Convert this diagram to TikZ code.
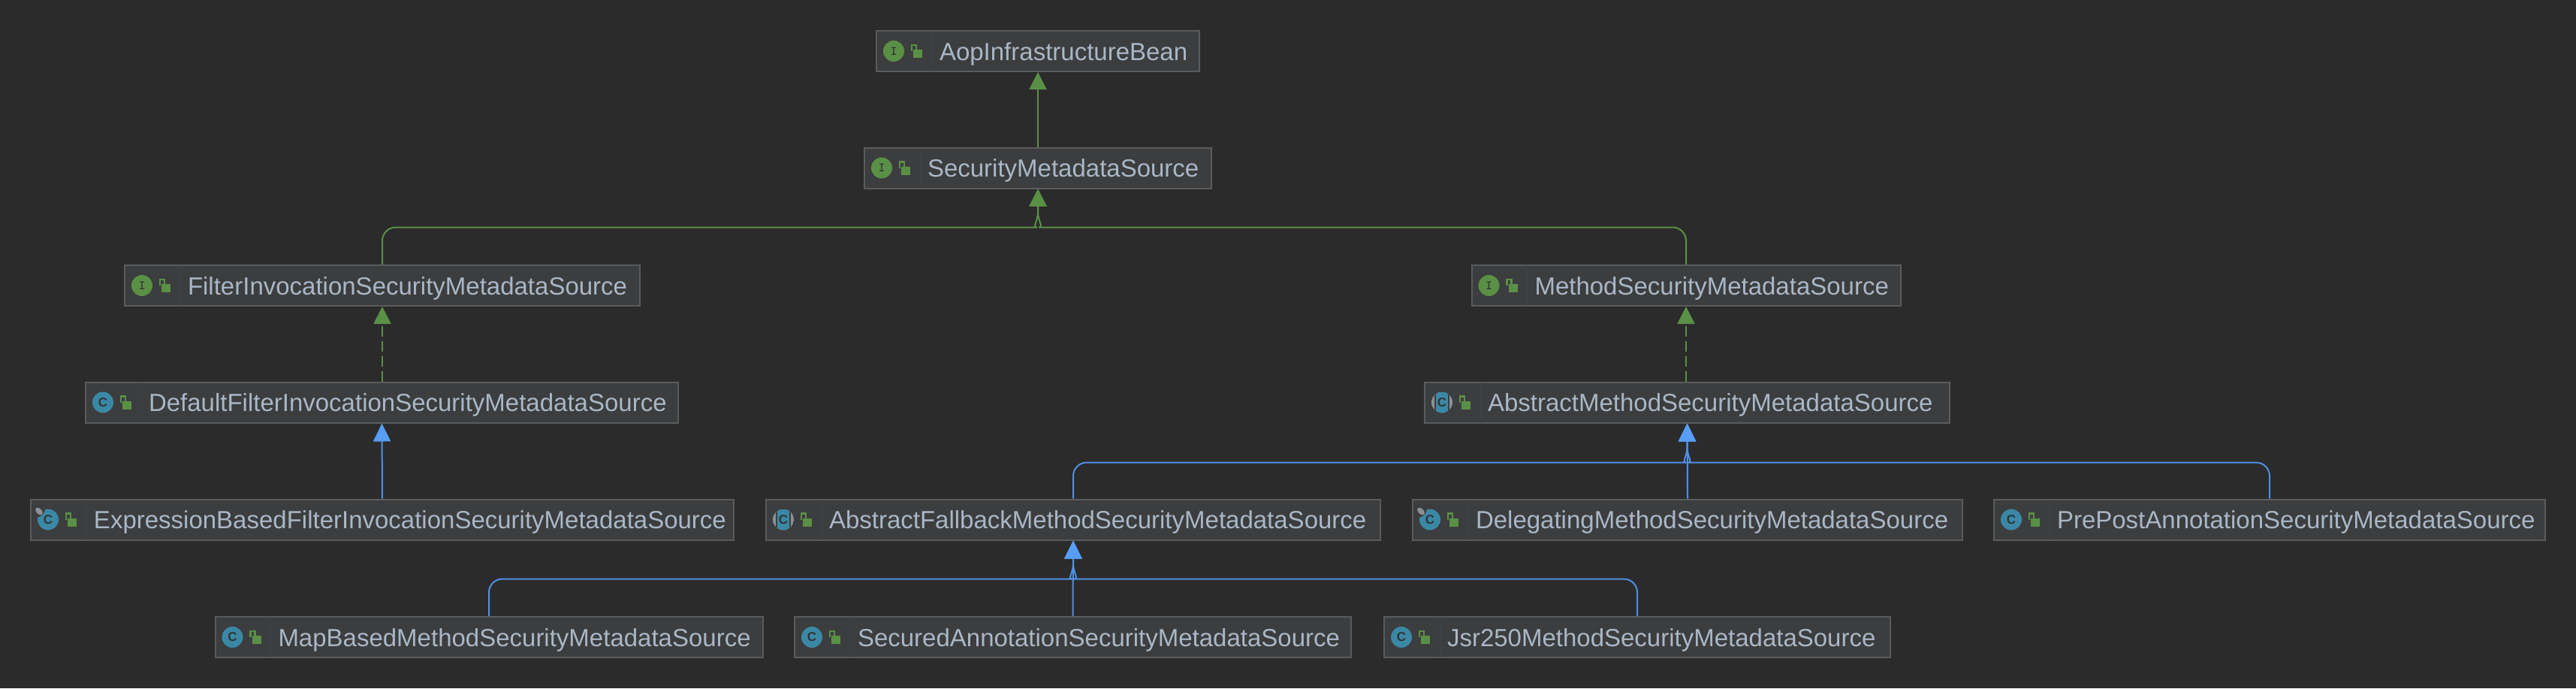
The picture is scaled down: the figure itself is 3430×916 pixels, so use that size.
\documentclass[tikz,border=0pt]{standalone}
\usepackage{fontspec}
\setmainfont{Liberation Sans}
\usetikzlibrary{calc,arrows.meta}
\definecolor{pagebg}{HTML}{2B2B2B}
\definecolor{boxfill}{HTML}{3C3D3E}
\definecolor{boxedge}{HTML}{5A5B5C}
\definecolor{boxtext}{HTML}{A9B7C6}
\definecolor{sgreen}{HTML}{5A9046}
\definecolor{sblue}{HTML}{4F8FE6}
\definecolor{stip}{HTML}{589DF6}
\definecolor{steal}{HTML}{3B88A6}
\definecolor{sgrey}{HTML}{8E9092}
\definecolor{sglyph}{HTML}{2F3436}

\tikzset{
    lockicon/.pic={
        \fill[sgreen] (50,-2) rectangle (62,9);
        \draw[sgreen,line width=2.5pt] (48,0) -- (48,-8) -- (54,-8) -- (54,-2);
        \draw[boxedge!15!boxfill,line width=1pt] (75,-27) -- (75,27);
    },
    ifaceicon/.pic={
        \fill[sgreen] (24,0) circle (14);
        \node[text=sglyph,font=\ttfamily\bfseries\fontsize{17}{17}\selectfont,inner sep=0pt] (-glyph) at (24,0) {I};
        \pic {lockicon};
    },
    classicon/.pic={
        \fill[steal] (24,0) circle (14);
        \node[text=sglyph,font=\bfseries\fontsize{17}{17}\selectfont,inner sep=0pt] (-glyph) at (24,0) {C};
        \pic {lockicon};
    },
    abstracticon/.pic={
        \begin{scope}
            \clip (24,0) circle (14);
            \fill[sgrey] (10,-14) rectangle (38,14);
            \fill[boxfill] (14,-14) rectangle (34,14);
            \fill[steal] (16,-14) rectangle (32,14);
        \end{scope}
        \node[text=sglyph,font=\bfseries\fontsize{17}{17}\selectfont,inner sep=0pt] (-glyph) at (24,0) {C};
        \pic {lockicon};
    },
    tagicon/.pic={
        \fill[steal] (24,0) circle (14);
        \fill[boxfill,rotate around={45:(13,-10)}] (13,-10) ellipse (8 and 5);
        \fill[sgrey,rotate around={-45:(12,-11)}] (12,-11) ellipse (6 and 3.5);
        \node[text=sglyph,font=\bfseries\fontsize{17}{17}\selectfont,inner sep=0pt] (-glyph) at (24,0) {C};
        \pic {lockicon};
    }
}

\begin{document}
\begin{tikzpicture}[
    x=1pt, y=-1pt,
    UML/.style={rectangle, draw=boxedge, fill=boxfill, line width=2pt, inner sep=0pt, text width=#1,
        minimum height=54pt, text height=30pt, text depth=6pt, align=left, text=boxtext,
        font=\fontsize{33}{36}\selectfont, execute at begin node={\hspace*{84pt}}},
    extI/.style={draw=sgreen, line width=2pt, -{Triangle[length=23pt,width=23pt,fill=sgreen]}},
    implI/.style={extI, dash pattern=on 14pt off 6pt},
    extC/.style={draw=sblue, line width=2pt, -{Triangle[length=24pt,width=23pt,fill=stip,color=stip]}},
    ]
    \fill[pagebg] (0,0) rectangle (3430,916);
    \useasboundingbox (0,0) rectangle (3430,916);

    \node[UML=430pt] (aop) at (1382,68) {AopInfrastructureBean};
    \node[UML=462pt] (sec) at (1382,223.5) {SecurityMetadataSource};
    \node[UML=686pt] (filter) at (509,380) {FilterInvocationSecurityMetadataSource};
    \node[UML=571pt] (method) at (2245,380) {MethodSecurityMetadataSource};
    \node[UML=789pt] (default) at (508.5,535.5) {DefaultFilterInvocationSecurityMetadataSource};
    \node[UML=699pt] (absmethod) at (2246.5,535.5) {AbstractMethodSecurityMetadataSource};
    \node[UML=936pt] (expr) at (509,691.5) {ExpressionBasedFilterInvocationSecurityMetadataSource};
    \node[UML=818pt] (fallback) at (1429,691.5) {AbstractFallbackMethodSecurityMetadataSource};
    \node[UML=732pt] (deleg) at (2247,691.5) {DelegatingMethodSecurityMetadataSource};
    \node[UML=734pt] (prepost) at (3022,691.5) {PrePostAnnotationSecurityMetadataSource};
    \node[UML=729pt] (mapbased) at (651,848) {MapBasedMethodSecurityMetadataSource};
    \node[UML=741pt] (secured) at (1428.5,848) {SecuredAnnotationSecurityMetadataSource};
    \node[UML=674pt] (jsr) at (2180,848) {Jsr250MethodSecurityMetadataSource};

    \pic (aopI) at (aop.west) {ifaceicon};
    \pic (secI) at (sec.west) {ifaceicon};
    \pic (filterI) at (filter.west) {ifaceicon};
    \pic (methodI) at (method.west) {ifaceicon};
    \pic (defaultI) at (default.west) {classicon};
    \pic (absmethodI) at (absmethod.west) {abstracticon};
    \pic (exprI) at (expr.west) {tagicon};
    \pic (fallbackI) at (fallback.west) {abstracticon};
    \pic (delegI) at (deleg.west) {tagicon};
    \pic (prepostI) at (prepost.west) {classicon};
    \pic (mapbasedI) at (mapbased.west) {classicon};
    \pic (securedI) at (secured.west) {classicon};
    \pic (jsrI) at (jsr.west) {classicon};

    \coordinate (secJ) at ($(sec.south)+(0,51)$);
    \coordinate (absJ) at ($(absmethod.south)+(0,52)$);
    \coordinate (fallJ) at ($(fallback.south)+(0,51)$);

    \draw[extI] (sec.north) -- (aop.south);
    \draw[extI] [rounded corners=18pt] (filter.north) |- ($(secJ)+(-19,0)$) [sharp corners] .. controls ($(secJ)+(-8,0)$) and ($(secJ)+(0,-8)$) .. ($(secJ)+(0,-20)$) -- (sec.south);
    \draw[extI] [rounded corners=18pt] (method.north) |- ($(secJ)+(19,0)$) [sharp corners] .. controls ($(secJ)+(8,0)$) and ($(secJ)+(0,-8)$) .. ($(secJ)+(0,-20)$) -- (sec.south);
    \draw[implI] (default.north -| filter.south) -- (filter.south);
    \draw[implI] (absmethod.north -| method.south) -- (method.south);
    \draw[extC] (expr.north) -- (default.south);
    \draw[extC] [rounded corners=18pt] (fallback.north) |- ($(absJ)+(-19,0)$) [sharp corners] .. controls ($(absJ)+(-8,0)$) and ($(absJ)+(0,-8)$) .. ($(absJ)+(0,-20)$) -- (absmethod.south);
    \draw[extC] (deleg.north) -- (absmethod.south);
    \draw[extC] [rounded corners=18pt] (prepost.north) |- ($(absJ)+(19,0)$) [sharp corners] .. controls ($(absJ)+(8,0)$) and ($(absJ)+(0,-8)$) .. ($(absJ)+(0,-20)$) -- (absmethod.south);
    \draw[extC] [rounded corners=18pt] (mapbased.north) |- ($(fallJ)+(-19,0)$) [sharp corners] .. controls ($(fallJ)+(-8,0)$) and ($(fallJ)+(0,-8)$) .. ($(fallJ)+(0,-20)$) -- (fallback.south);
    \draw[extC] (secured.north) -- (fallback.south);
    \draw[extC] [rounded corners=18pt] (jsr.north) |- ($(fallJ)+(19,0)$) [sharp corners] .. controls ($(fallJ)+(8,0)$) and ($(fallJ)+(0,-8)$) .. ($(fallJ)+(0,-20)$) -- (fallback.south);
\end{tikzpicture}
\end{document}
